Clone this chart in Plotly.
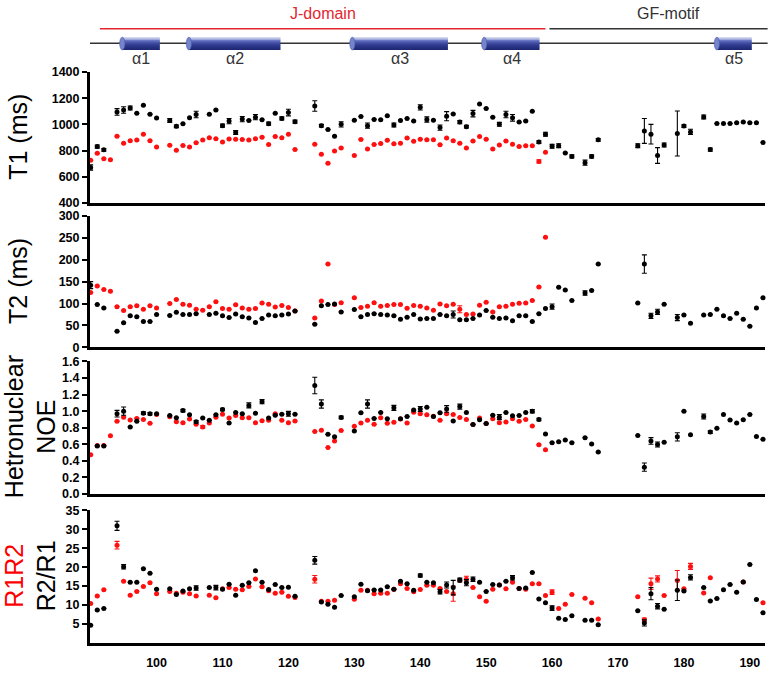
import plotly.graph_objects as go
from plotly.subplots import make_subplots

# ---------------- data ----------------
res_black = [90, 91, 92,
             94, 95, 96, 97, 98, 99, 100,
             102, 103, 104, 105, 106, 107, 108, 109, 110, 111,
             112, 113, 114, 115, 116, 117, 118, 119, 120, 121,
             124, 125, 126, 127, 128,
             130, 131, 132, 133, 134, 135, 136, 137, 138, 139,
             140, 141, 142, 143, 144, 145, 146, 147, 148, 149,
             150, 151, 152, 153, 154, 155, 156, 157, 158, 159,
             160, 161, 162, 163,
             165, 166, 167,
             173, 174, 175, 176, 177,
             179, 180, 181,
             183, 184, 185, 186, 187, 188, 189, 190, 191, 192]

res_red = [90, 91, 92, 93, 94, 95, 96, 97, 98, 99, 100,
           102, 103, 104, 105, 106, 107, 108, 109, 110, 111,
           112, 113, 114, 115, 116, 117, 118, 119, 120, 121,
           124, 125, 126, 127, 128,
           130, 131, 132, 133, 134, 135, 136, 137, 138, 139,
           140, 141, 142, 143, 144, 145, 146, 147, 148, 149,
           150, 151, 152, 153, 154, 155, 156, 157, 158, 159]

res_red_ratio = res_red + [160, 161, 162, 163, 165, 166, 167,
                           173, 174, 175, 176, 177, 179, 180, 181,
                           183, 184, 189, 192]

t1_black = [670, 830, 805,
            1095, 1110, 1125, 1085, 1145, 1078, 1048,
            1030, 985, 1005, 1050, 1075, None, 1078, 1110, 990, 1025,
            937, 1040, 1030, 1055, 1035, 1005, 1085, 1045, 1090, 1020,
            1140, 990, 960, 910, 1000,
            1032, 1060, 990, 1038, 1035, 1065, 995, 1030, 1045, 1025,
            1130, 1037, 1032, 975, 1062, 1080, 1017, 982, 1082, 1155,
            1122, 1055, 1000, 1075, 1050, 1017, 1025, 1100, 865, 925,
            832, 837, 782, 755,
            707, 755, 882,
            837, 950, 925, 762, 842,
            930, 987, 942,
            1057, 807, 1007, 1007, 1007, 1012, 1017, 1012, 1012, 862]
t1_black_err = {90: 20, 91: 12, 92: 10, 94: 25, 95: 25, 96: 15, 102: 15, 103: 10,
                106: 25, 110: 12, 111: 20, 112: 15, 113: 20, 115: 20, 117: 12,
                119: 12, 120: 25, 121: 12, 124: 40, 125: 10, 128: 20, 132: 20,
                136: 15, 140: 20, 141: 20, 143: 20, 144: 35, 146: 12, 147: 10,
                148: 25, 152: 15, 153: 25, 154: 25, 158: 10, 159: 15, 160: 15,
                161: 15, 163: 12, 165: 20, 166: 12, 167: 10, 173: 15, 174: 95,
                175: 75, 176: 60, 177: 15, 179: 172, 180: 10, 181: 20, 183: 15,
                184: 12}

t1_red = [725, 780, 737, 730, 910, 855, 875, 880, 925, 875, 827,
          840, 803, 838, 826, 860, 880, 897, 890, 866, 888,
          886, 884, 880, 890, 902, 846, 907, 898, 924, 808,
          848, 772, 703, 797, 820,
          762, 885, 812, 846, 853, 879, 851, 855, 895, 870,
          887, 882, 882, 845, 895, 875, 855, 820, 872, 907,
          887, 812, 842, 872, 847, 830, 837, 837, 717, 787]
t1_red_err = {158: 12}

t2_black = [142, 98, 90,
            36.6, 56, 72, 70, 59, 59, 75,
            73, 80, 75, 75, 77, None, 75, 78, 72, 68,
            76, 70, 67, 57, 66, 74, 72, 74, 76, 83,
            53, 95, 98, 99, 81,
            86.6, 70, 75, 77, 75, 74, 72, 64, 69, 75,
            65, 66, 66, 75, 72, 75, 63, 63, 66, 74,
            84, 69, 66, 67, 61, 72, 72, 59, 77, 89,
            93, 137, 131, 107,
            124, 130, 190,
            101, 190, 72, 81, 98.5,
            68, 74, 55,
            74, 75, 87, 72, 66, 78, 64, 48.5, 90, 113]
t2_black_err = {90: 8, 145: 8, 160: 6, 165: 5, 174: 21, 175: 6, 176: 6, 179: 7}

t2_red = [125, 140, 132, 128, 93, 84, 93, 95, 87, 95, 90,
          100, 109, 98.5, 96, 87, 85, 93, 104, 89, 87,
          97, 90, 87, 89, 101, 98.5, 92, 95.5, 91, 83,
          67, 106, 190, 98, 102,
          113, 91, 94, 102, 94, 95.5, 98, 98, 89.5, 95.5,
          94, 90, 85, 99, 95, 98.5, 87, 75, 76, 96,
          103, 81, 93, 94, 98.5, 100.7, 101.5, 107, 138, 251]
t2_red_err = {146: 8}

noe_black = [None, 0.58, 0.58,
             0.97, 1.0, 0.81, 0.877, 0.976, 0.968, 0.968,
             0.948, 0.92, 1.007, 0.956, 0.873, 0.917, 0.889, 0.956, 1.02, 0.857,
             0.984, 0.968, 1.07, 0.976, 1.114, 0.917, 0.952, 0.964, 0.968, 0.964,
             1.31, 1.087, 0.72, 0.69, 0.925,
             0.76, 0.98, 1.087, 0.913, 0.985, 0.91, 1.04, 0.909, 0.936, 1.015,
             1.027, 1.047, 0.936, 0.98, 1.027, 0.881, 1.055, 0.984, 0.838, 0.897,
             0.85, 0.952, 0.928, 0.984, 0.944, 0.948, 0.984, 1.0, 0.90, 0.723,
             0.62, 0.632, 0.652, 0.62,
             0.68, 0.604, 0.506,
             0.707, 0.324, 0.64, 0.597, 0.624,
             0.69, 1.0, 0.715,
             0.936, 0.747, 0.794, 0.96, 0.893, 0.857, 0.897, 0.96, 0.695, 0.66]
noe_black_err = {94: 0.04, 95: 0.05, 98: 0.015, 99: 0.015, 104: 0.015, 106: 0.015,
                 110: 0.015, 114: 0.03, 116: 0.025, 120: 0.03, 124: 0.1, 125: 0.05,
                 128: 0.015, 132: 0.05, 136: 0.03, 140: 0.03, 144: 0.04, 146: 0.03,
                 152: 0.03, 157: 0.02, 158: 0.015, 174: 0.05, 175: 0.04, 176: 0.03,
                 179: 0.05, 183: 0.03, 184: 0.015}

noe_red = [0.474, 0.585, 0.585, 0.703, 0.877, 0.928, 0.893, 0.913, 0.90, 0.853, 0.96,
           0.932, 0.873, 0.861, 0.905, 0.841, 0.81, 0.857, 0.928, 0.964, 0.917,
           0.948, 0.92, 0.92, 0.861, 0.885, 0.89, 0.97, 0.89, 0.86, 0.88,
           0.755, 0.77, 0.561, 0.64, 0.766,
           0.818, 0.857, 0.889, 0.841, 0.92, 0.853, 0.867, 0.905, 0.857, 0.988,
           0.968, 0.956, 0.94, 0.889, 0.968, 0.96, 0.924, 0.90, 0.84, 0.917,
           0.85, 0.909, 0.861, 0.869, 0.909, 0.877, 0.90, 0.822, 0.593, 0.533]
noe_red_err = {107: 0.015}

ratio_black = [4.7, 8.7, 9.1,
               30.9, 20.1, 16.0, 16.0, 19.6, 18.4, 14.2,
               14.3, 12.8, 13.7, 14.3, 14.5, None, 14.6, 14.6, 14.2, 15.5,
               12.6, 15.2, 15.9, 19.05, 16.0, 14.1, 15.4, 14.6, 14.7, 12.3,
               21.8, 10.8, 10.2, 9.4, 12.5,
               12.2, 15.5, 13.8, 14.0, 14.0, 14.85, 14.15, 16.3, 15.6, 13.9,
               17.8, 16.0, 15.9, 13.5, 15.3, 14.6, 16.6, 15.9, 16.8, 16.0,
               13.6, 15.4, 15.3, 16.3, 17.2, 14.4, 14.5, 18.6, 11.6, 10.6,
               9.2, 6.5, 6.2, 7.2,
               6.0, 6.0, 4.8,
               8.5, 5.3, 13.0, 9.7, 8.9,
               13.9, 13.7, 17.3,
               14.6, 11.1, 11.7, 14.05, 15.4, 13.4, 16.1, 20.7, 11.5, 8.0]
ratio_black_err = {94: 1.2, 95: 0.6, 106: 0.6, 109: 0.6, 124: 1.0, 140: 0.4,
                   143: 0.6, 144: 0.8, 145: 1.9, 146: 0.5, 147: 0.8, 148: 0.6,
                   154: 0.6, 160: 0.6, 174: 0.8, 175: 1.6, 176: 0.7, 179: 2.7,
                   181: 0.7}

ratio_red = [10.4, 12.4, 14.05, None, 25.8, 16.3, 12.6, 13.6, 14.9, 15.9, 13.0,
             13.6, 13.1, 13.4, 13.0, 12.4, None, 12.6, 11.9, 14.3, 14.6,
             14.2, 14.05, 14.9, 16.9, 14.8, 13.8, 13.1, 13.4, 12.3, 12.0,
             16.8, 11.0, 11.0, 11.3, None,
             11.55, 13.9, 13.9, 13.0, 13.1, 13.1, 14.2, 15.6, 14.4, 13.5,
             14.1, 15.2, 15.2, 14.4, 13.6, 13.0, 16.5, 16.8, 14.6, 12.2,
             11.0, 14.2, 15.3, 14.3, 16.0, 14.4, 14.2, 15.6, 15.6, 12.5,
             13.4, 9.1, 10.2, 12.8,
             11.8, 10.6, 6.3,
             12.2, 6.1, 15.6, 16.9, 12.5,
             16.5, 14.3, 20.2,
             13.2, 17.2, 16.1, 10.6]
ratio_red_err = {94: 1.0, 124: 1.0, 145: 2.0, 147: 0.8, 160: 0.6, 174: 0.5,
                 175: 1.5, 176: 0.8, 179: 2.6, 181: 0.8}

# secondary structure annotation (residue numbers)
helix_names = ["α1", "α2", "α3", "α4", "α5"]
helix_start = [94.8, 104.9, 129.7, 149.7, 185.0]
helix_end = [100.5, 118.8, 144.2, 158.1, 190.3]
domain_names = ["J-domain", "GF-motif"]
domain_start = [91.4, 159.6]
domain_end = [159.0, 192.7]
domain_label_pos = [125.2, 177.6]
domain_colors = ["#e3262f", "#333333"]
chain_start, chain_end = 89.9, 192.7

x_ticks = [100, 110, 120, 130, 140, 150, 160, 170, 180, 190]
panels = [
    dict(title="T1 (ms)", rng=[400, 1400], ticks=[400, 600, 800, 1000, 1200, 1400], fmt=None),
    dict(title="T2 (ms)", rng=[0, 300], ticks=[0, 50, 100, 150, 200, 250, 300], fmt=None),
    dict(title="Hetronuclear<br>NOE", rng=[0, 1.6], ticks=[0, 0.2, 0.4, 0.6, 0.8, 1.0, 1.2, 1.4, 1.6], fmt=".1f"),
    dict(title="<span style='color:#ff0000'>R1R2</span><br>R2/R1", rng=[0, 35], ticks=[5, 10, 15, 20, 25, 30, 35], fmt=None),
]

# ---------------- figure ----------------
XMIN, XMAX = 89.9, 192.3
W, H = 773, 678
ML, MR, MT, MB = 90, 8, 72, 24
PW, PH = W - ML - MR, H - MT - MB

RED = "#ff1010"
BLK = "#000000"

fig = make_subplots(rows=4, cols=1, shared_xaxes=True)


def errs(d, rs):
    return [d.get(r, 0) for r in rs]


series = [
    (res_red, t1_red, t1_red_err, res_black, t1_black, t1_black_err),
    (res_red, t2_red, t2_red_err, res_black, t2_black, t2_black_err),
    (res_red, noe_red, noe_red_err, res_black, noe_black, noe_black_err),
    (res_red_ratio, ratio_red, ratio_red_err, res_black, ratio_black, ratio_black_err),
]

for i, (rr, rv, re, br, bv, be) in enumerate(series, start=1):
    fig.add_trace(go.Scatter(
        x=rr, y=rv, mode="markers", cliponaxis=False, showlegend=False,
        marker=dict(color=RED, size=5),
        error_y=dict(type="data", array=errs(re, rr), color=RED, thickness=1.1, width=2.5),
    ), row=i, col=1)
    fig.add_trace(go.Scatter(
        x=br, y=bv, mode="markers", cliponaxis=False, showlegend=False,
        marker=dict(color=BLK, size=5),
        error_y=dict(type="data", array=errs(be, br), color=BLK, thickness=1.1, width=2.5),
    ), row=i, col=1)

domains = [[0.7708, 1.0], [0.5177, 0.748], [0.261, 0.493], [0.0, 0.2325]]
tickfont = dict(family="Arial, Liberation Sans", size=12.5, color="black", weight="bold")
for i, p in enumerate(panels, start=1):
    fig.update_yaxes(row=i, col=1, domain=domains[i - 1], range=p["rng"], tickvals=p["ticks"],
                     tickformat=p["fmt"], showline=True, linewidth=3, linecolor="black",
                     ticks="outside", ticklen=5, tickwidth=2, tickcolor="black",
                     showgrid=False, zeroline=False, tickfont=tickfont)
    fig.update_xaxes(row=i, col=1, range=[XMIN, XMAX], showline=True, linewidth=3,
                     linecolor="black", showgrid=False, zeroline=False, ticks="",
                     tickvals=x_ticks, showticklabels=(i == 4), tickfont=tickfont,
                     ticklabelstandoff=6)


def xp(r):
    return (r - XMIN) / (XMAX - XMIN)


def yp(pix):
    return (MT + PH - pix) / PH


def xpx(pix):
    return (pix - ML) / PW


shapes = []
annotations = []

# y-axis titles
title_font = dict(family="Arial, Liberation Sans", size=25, color="black")
title_x = [xpx(18), xpx(18), xpx(30), xpx(30)]
title_y = [yp(138), yp(285), yp(434), yp(586)]
for i, p in enumerate(panels):
    annotations.append(dict(text=p["title"], xref="paper", yref="paper",
                            x=title_x[i], y=title_y[i], textangle=-90,
                            xanchor="center", yanchor="middle", showarrow=False,
                            font=title_font))

# chain line
shapes.append(dict(type="line", xref="paper", yref="paper", x0=xp(chain_start), x1=xp(chain_end),
                   y0=yp(42.7), y1=yp(42.7), line=dict(color="#333333", width=1.5)))
# domains
for n, s, e, lp, c in zip(domain_names, domain_start, domain_end, domain_label_pos, domain_colors):
    shapes.append(dict(type="line", xref="paper", yref="paper", x0=xp(s), x1=xp(e),
                       y0=yp(28), y1=yp(28), line=dict(color=c, width=1.5)))
    annotations.append(dict(text=n, xref="paper", yref="paper", x=xp(lp), y=yp(12.5),
                            xanchor="center", yanchor="middle", showarrow=False,
                            font=dict(family="Arial, Liberation Sans", size=16, color=c)))

# helices as shaded cylinders
stops = [(200, 206, 236), (150, 160, 215), (105, 118, 195), (80, 92, 175),
         (62, 74, 158), (50, 60, 145), (42, 52, 135), (36, 46, 125), (30, 40, 115)]
top, bot = 36.5, 49.5
nrow = 13
for n, s, e in zip(helix_names, helix_start, helix_end):
    for k in range(nrow):
        f = k / (nrow - 1) * (len(stops) - 1)
        a = int(f)
        b = min(a + 1, len(stops) - 1)
        t = f - a
        col = tuple(int(stops[a][j] + (stops[b][j] - stops[a][j]) * t) for j in range(3))
        y0 = top + (bot - top) * k / nrow
        y1 = top + (bot - top) * (k + 1) / nrow
        shapes.append(dict(type="rect", xref="paper", yref="paper",
                           x0=xp(s), x1=xp(e), y0=yp(y1), y1=yp(y0),
                           fillcolor="rgb(%d,%d,%d)" % col, line=dict(width=0)))
    shapes.append(dict(type="circle", xref="paper", yref="paper",
                       x0=xp(s) - 2.6 / PW, x1=xp(s) + 2.6 / PW, y0=yp(bot), y1=yp(top),
                       fillcolor="#7485cc", line=dict(color="#4a5aa8", width=0.6)))
    annotations.append(dict(text=n, xref="paper", yref="paper", x=xp((s + e) / 2), y=yp(58),
                            xanchor="center", yanchor="middle", showarrow=False,
                            font=dict(family="Arial, Liberation Sans", size=16, color="#333333")))

fig.update_layout(
    width=W, height=H,
    margin=dict(l=ML, r=MR, t=MT, b=MB),
    paper_bgcolor="white", plot_bgcolor="white",
    shapes=shapes, annotations=annotations, showlegend=False,
)

# remove the default 8px page margin so the figure fills the window exactly
fig.write_html("out.html", config={"displayModeBar": False},
               post_script="document.body.style.margin='0px';")
